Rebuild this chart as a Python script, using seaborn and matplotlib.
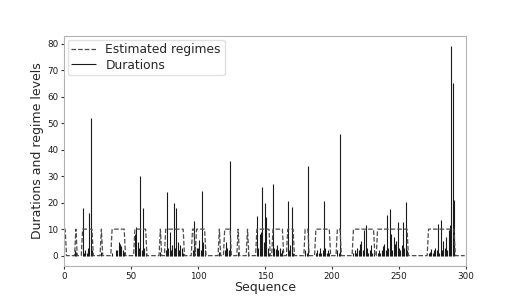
import numpy as np
import matplotlib
matplotlib.use("Agg")
import matplotlib.pyplot as plt
import seaborn as sns

# durations (index -> value), everything else is 0
spike_idx = [0, 8, 9, 14, 15, 16, 17, 18, 19, 20, 21, 28,
             36, 39, 40, 41, 42, 43, 44, 45,
             53, 54, 55, 56, 57, 58, 59, 60, 61, 72,
             76, 77, 78, 79, 80, 81, 82, 83, 84, 85, 86, 87, 88, 89,
             96, 97, 99, 100, 101, 102, 103, 104, 105, 116,
             120, 121, 122, 123, 124, 130, 137,
             144, 145, 146, 147, 148, 149, 150, 151, 152, 153,
             156, 157, 158, 159, 160, 161, 162, 163,
             167, 168, 169, 170, 171, 180, 181, 182,
             188, 189, 190, 191, 192, 193, 194, 195, 196, 197, 198,
             204, 205, 206,
             216, 217, 218, 219, 220, 221, 222, 223, 224, 225, 226, 227, 228, 229, 230, 231,
             234, 235, 236, 237, 238, 239, 240, 241, 242, 243, 244, 245, 246, 247, 248,
             249, 250, 251, 252, 253, 254, 255, 256,
             272, 273, 274, 275, 276, 277, 278, 279, 280, 281, 282, 283, 284, 285, 286,
             287, 288, 289, 290, 291]
spike_val = [1, 2, 1.5, 18, 1, 2, 1, 3, 16, 52, 2, 1.5,
             1, 2, 2, 5, 4.5, 3.5, 2, 1.5,
             8, 11, 5, 3, 30, 2, 18, 3, 1, 1.5,
             2, 24, 3, 9, 2, 4, 20, 3, 18, 5, 2, 4, 3, 1,
             2, 13, 3, 3, 6, 2, 24.5, 5, 2, 1.5,
             2, 5, 3, 2, 35.6, 1.5, 1.5,
             15, 3, 8, 9, 26, 5, 19.7, 14.5, 3, 1,
             27, 3, 2.5, 4, 2, 3, 1, 2,
             20.8, 2, 4, 18.3, 1, 2, 1, 34,
             1, 2, 1, 3, 1, 2, 20.8, 3, 1, 2, 1,
             2, 1, 46,
             1, 2, 1, 3, 2, 4.4, 5.7, 2, 9.5, 11.4, 3, 1, 2, 4, 1, 2,
             1, 2, 1, 2, 3.8, 4.4, 2, 15.2, 3, 17.7, 8.2, 2, 7, 4.4, 5.7,
             12.6, 3, 2, 4, 12.6, 3, 20.2, 2,
             1, 1.5, 2.5, 1, 2, 3, 2, 12, 1, 13.3, 2, 5.7, 3, 7, 2,
             9.5, 11.4, 79, 65, 21]
n_durations = 292

# estimated regime: high (10) on these index ranges, low (0) elsewhere
regime_start = [0, 9, 14, 28, 36, 53, 72, 76, 96, 99, 116, 120, 130, 137,
                144, 156, 167, 180, 188, 204, 216, 234, 272]
regime_end = [1, 9, 21, 28, 45, 61, 72, 89, 97, 105, 116, 124, 130, 137,
              153, 163, 171, 182, 198, 206, 231, 256, 291]
regime_levels = [0, 10]
n_regimes = 300

durations = np.zeros(n_durations)
durations[spike_idx] = spike_val

regimes = np.full(n_regimes, regime_levels[0], dtype=float)
for s, e in zip(regime_start, regime_end):
    regimes[s:e + 1] = regime_levels[1]

sns.set_style("ticks", {"axes.edgecolor": "0.7"})
plt.rcParams["font.family"] = ["DejaVu Sans"]

fig = plt.figure(figsize=(5.19, 2.99), dpi=100)
ax = fig.add_axes([0.123, 0.110, 0.775, 0.770])

ax.vlines(np.arange(n_durations), 0, durations, color="0.1", linewidth=0.8,
          label="Durations")
sns.lineplot(x=np.arange(n_regimes), y=regimes, ax=ax, color="0.3",
             linestyle="--", linewidth=0.9, label="Estimated regimes")

ax.set_xlim(0, 300)
ax.set_ylim(-3.95, 82.95)
ax.set_xticks([0, 50, 100, 150, 200, 250, 300])
ax.set_yticks(range(0, 81, 10))
ax.tick_params(labelsize=6.3, labelcolor="0.1", color="0.2", length=2.5,
               width=0.8, pad=1.5)
ax.set_xlabel("Sequence", fontsize=9, labelpad=0)
ax.set_ylabel("Durations and regime levels", fontsize=9, labelpad=2)

handles, labels = ax.get_legend_handles_labels()
ax.legend(handles[::-1], labels[::-1], loc="upper left", fontsize=8.8,
          frameon=True, edgecolor="0.85", borderaxespad=0.3, borderpad=0.3,
          labelspacing=0.2)

fig.savefig("out.png", dpi=100)
